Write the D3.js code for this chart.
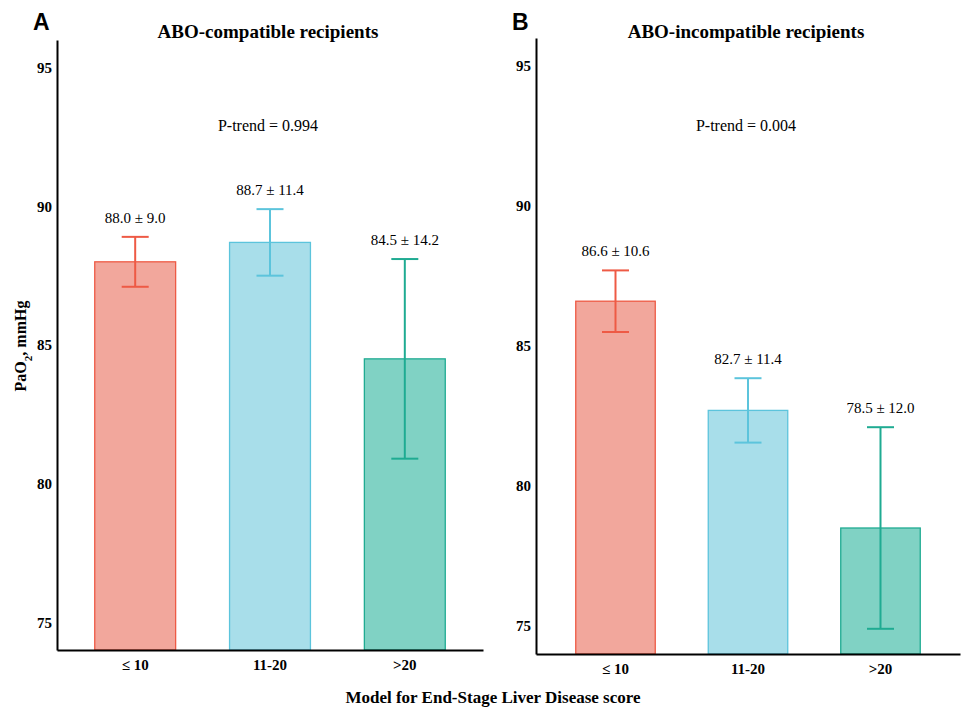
<!DOCTYPE html>
<html>
<head>
<meta charset="utf-8">
<script src="https://cdn.jsdelivr.net/npm/d3@7"></script>
<style>
  body { margin: 0; background: #fff; }
  text { font-family: "Liberation Serif", "Times New Roman", serif; }
</style>
</head>
<body>
<svg id="chart" width="962" height="710"></svg>
<script>
// data
var groups = ['\u2264 10', '11-20', '>20'];
var compatMean = [88.0, 88.7, 84.5];
var compatErr = [0.9, 1.2, 3.6];
var compatLabel = ['88.0 \u00b1 9.0', '88.7 \u00b1 11.4', '84.5 \u00b1 14.2'];
var incompatMean = [86.6, 82.7, 78.5];
var incompatErr = [1.1, 1.15, 3.6];
var incompatLabel = ['86.6 \u00b1 10.6', '82.7 \u00b1 11.4', '78.5 \u00b1 12.0'];
var yTicks = [75, 80, 85, 90, 95];

var fills = ['#f2a79c', '#a8deea', '#80d2c4'];
var strokes = ['#ee5a45', '#5cc4dc', '#1fab92'];

var svg = d3.select('#chart');

function panel(opts) {
  var x = d3.scaleBand().domain(groups)
      .range([opts.left, opts.right])
      .paddingInner(0.4).paddingOuter(opts.pad);
  var y = d3.scaleLinear().domain([74, 96]).range([opts.bottom, opts.top]);

  var g = svg.append('g');

  // panel letter
  g.append('text')
    .attr('x', opts.left - 24).attr('y', 30)
    .style('font-family', 'Liberation Sans, Arial, sans-serif')
    .style('font-weight', 'bold').style('font-size', '23px')
    .text(opts.letter);

  g.append('text')
    .attr('x', (opts.left + opts.right) / 2 - 2).attr('y', 38)
    .attr('text-anchor', 'middle')
    .style('font-weight', 'bold').style('font-size', '19px')
    .text(opts.title);

  g.append('text')
    .attr('x', (opts.left + opts.right) / 2 - 2).attr('y', 131)
    .attr('text-anchor', 'middle')
    .style('font-size', '16px')
    .text(opts.ptrend);

  var rows = groups.map(function(d, i) {
    return {g: d, m: opts.mean[i], e: opts.err[i], lab: opts.label[i], i: i};
  });

  g.selectAll('.bar').data(rows).enter().append('rect')
    .attr('class', 'bar')
    .attr('x', function(d) { return x(d.g); })
    .attr('width', x.bandwidth())
    .attr('y', function(d) { return y(d.m); })
    .attr('height', function(d) { return opts.bottom - y(d.m); })
    .style('fill', function(d) { return fills[d.i]; })
    .style('stroke', function(d) { return strokes[d.i]; })
    .style('stroke-width', 1.3);

  var eb = g.selectAll('.err').data(rows).enter().append('g')
    .attr('class', 'err')
    .style('stroke', function(d) { return strokes[d.i]; })
    .style('stroke-width', 2);
  var cx = function(d) { return x(d.g) + x.bandwidth() / 2; };
  eb.append('line')
    .attr('x1', cx).attr('x2', cx)
    .attr('y1', function(d) { return y(d.m + d.e); })
    .attr('y2', function(d) { return y(d.m - d.e); });
  [1, -1].forEach(function(s) {
    eb.append('line')
      .attr('x1', function(d) { return cx(d) - 13.5; })
      .attr('x2', function(d) { return cx(d) + 13.5; })
      .attr('y1', function(d) { return y(d.m + s * d.e); })
      .attr('y2', function(d) { return y(d.m + s * d.e); });
  });

  g.selectAll('.val').data(rows).enter().append('text')
    .attr('class', 'val')
    .attr('x', cx)
    .attr('y', function(d) { return y(d.m + d.e) - 14; })
    .attr('text-anchor', 'middle')
    .style('font-size', '15px')
    .text(function(d) { return d.lab; });

  var ya = g.append('g')
    .attr('transform', 'translate(' + opts.left + ',0)')
    .call(d3.axisLeft(y).tickValues(yTicks).tickSize(0).tickPadding(5));
  ya.select('.domain').style('stroke', '#000').style('stroke-width', 2);
  ya.selectAll('text')
    .style('font-family', 'Liberation Serif, serif')
    .style('font-weight', 'bold').style('font-size', '15px');

  var xa = g.append('g')
    .attr('transform', 'translate(0,' + opts.bottom + ')')
    .call(d3.axisBottom(x).tickSize(0).tickPadding(9).tickSizeOuter(0));
  xa.select('.domain').style('stroke', '#000').style('stroke-width', 2);
  xa.selectAll('text')
    .style('font-family', 'Liberation Serif, serif')
    .style('font-weight', 'bold').style('font-size', '15px');
}

panel({left: 57, right: 483, top: 40, bottom: 650, pad: 0.28, letter: 'A',
       title: 'ABO-compatible recipients', ptrend: 'P-trend = 0.994',
       mean: compatMean, err: compatErr, label: compatLabel});
panel({left: 536, right: 960, top: 38, bottom: 654, pad: 0.3, letter: 'B',
       title: 'ABO-incompatible recipients', ptrend: 'P-trend = 0.004',
       mean: incompatMean, err: incompatErr, label: incompatLabel});

svg.append('text')
  .attr('transform', 'translate(26,346) rotate(-90)')
  .attr('text-anchor', 'middle')
  .style('font-weight', 'bold').style('font-size', '16px')
  .html('PaO<tspan baseline-shift="sub" font-size="11px">2</tspan>, mmHg');

svg.append('text')
  .attr('x', 493).attr('y', 703)
  .attr('text-anchor', 'middle')
  .style('font-weight', 'bold').style('font-size', '17px')
  .text('Model for End-Stage Liver Disease score');
</script>
</body>
</html>
